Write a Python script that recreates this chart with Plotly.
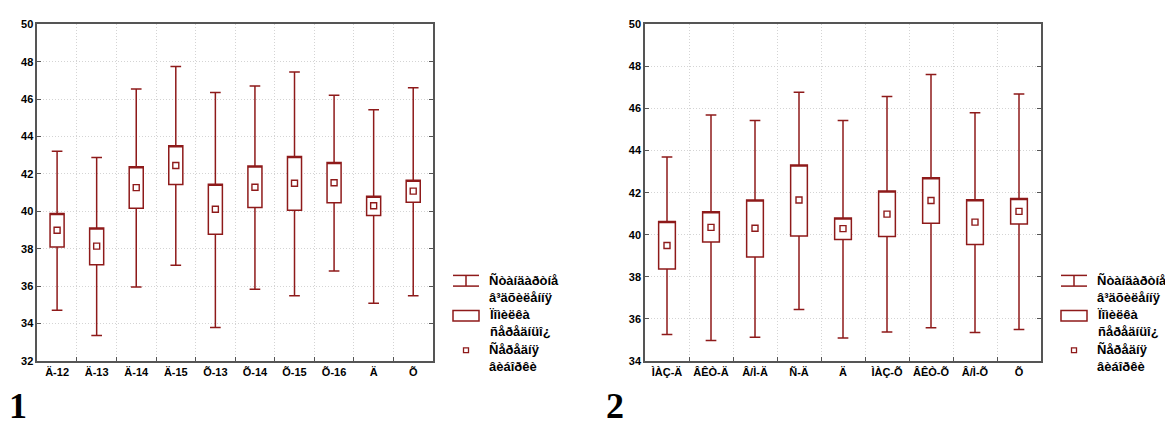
import plotly.graph_objects as go

# ---------------- data ----------------
cats1 = ["Ä-12", "Ä-13", "Ä-14", "Ä-15", "Õ-13", "Õ-14", "Õ-15", "Õ-16", "Ä", "Õ"]
mean1 = [38.99, 38.14, 41.27, 42.45, 40.11, 41.29, 41.50, 41.53, 40.30, 41.08]
se_hi1 = [39.89, 39.11, 42.38, 43.51, 41.45, 42.42, 42.94, 42.61, 40.81, 41.67]
se_lo1 = [38.09, 37.15, 40.17, 41.43, 38.78, 40.20, 40.06, 40.46, 39.78, 40.49]
sd_hi1 = [43.21, 42.88, 46.55, 47.75, 46.36, 46.71, 47.45, 46.21, 45.43, 46.61]
sd_lo1 = [34.71, 33.36, 35.96, 37.12, 33.79, 35.84, 35.49, 36.81, 35.09, 35.49]

cats2 = ["ÌÀÇ-Ä", "ÂÊÒ-Ä", "Â/Ì-Ä", "Ñ-Ä", "Ä", "ÌÀÇ-Õ", "ÂÊÒ-Õ", "Â/Ì-Õ", "Õ"]
mean2 = [39.49, 40.35, 40.31, 41.65, 40.29, 40.98, 41.63, 40.60, 41.11]
se_hi2 = [40.63, 41.09, 41.65, 43.32, 40.80, 42.08, 42.71, 41.66, 41.72]
se_lo2 = [38.37, 39.65, 38.94, 39.94, 39.77, 39.91, 40.54, 39.54, 40.51]
sd_hi2 = [43.69, 45.69, 45.43, 46.77, 45.43, 46.57, 47.62, 45.80, 46.69]
sd_lo2 = [35.26, 34.97, 35.12, 36.45, 35.09, 35.37, 35.58, 35.35, 35.49]

yticks1 = [32, 34, 36, 38, 40, 42, 44, 46, 48, 50]
yticks2 = [34, 36, 38, 40, 42, 44, 46, 48, 50]

legend_texts = ["Ñòàíäàðòíå<br>â³äõèëåííÿ", "Ïîìèëêà<br>ñåðåäíüî¿", "Ñåðåäíÿ<br>âèáîðêè"]
panel_labels = ["1", "2"]

RED = "#8E1A1A"
FONT = "Liberation Sans"
W, H = 1173, 425

fig = go.Figure()

panels = [
    dict(cats=cats1, mean=mean1, sehi=se_hi1, selo=se_lo1, sdhi=sd_hi1, sdlo=sd_lo1,
         xa="x", ya="y", boxw=0.355, ww=0.76),
    dict(cats=cats2, mean=mean2, sehi=se_hi2, selo=se_lo2, sdhi=sd_hi2, sdlo=sd_lo2,
         xa="x2", ya="y2", boxw=0.38, ww=0.64),
]

for p in panels:
    xs = list(range(len(p["cats"])))
    fig.add_trace(go.Box(
        x=xs, q1=p["selo"], q3=p["sehi"], median=p["sehi"],
        lowerfence=p["sdlo"], upperfence=p["sdhi"],
        width=p["boxw"], whiskerwidth=p["ww"],
        fillcolor="white", line=dict(color=RED, width=1.5),
        xaxis=p["xa"], yaxis=p["ya"], showlegend=False, hoverinfo="skip",
        boxpoints=False,
    ))
    fig.add_trace(go.Scatter(
        x=xs, y=p["mean"], mode="markers",
        marker=dict(symbol="square-open", size=6, color=RED, line=dict(width=1.4, color=RED)),
        xaxis=p["xa"], yaxis=p["ya"], showlegend=False, hoverinfo="skip",
    ))

# axis pixel extents
px1 = (29.3, 425.0)
px2 = (637.0, 1033.0)
py = (10.7, 357.0)

def xdom(px):
    return [px[0] / W, px[1] / W]

ydom = [1 - py[1] / H, 1 - py[0] / H]

tickfont = dict(family=FONT, size=11, color="black")
GRID = "#d4d4d4"
GDASH = "1px,2px"

def xaxis_cfg(cats, px):
    n = len(cats)
    return dict(
        domain=xdom(px), range=[-0.5, n - 0.5],
        tickmode="array", tickvals=list(range(n)), ticktext=[f"<b>{c}</b>" for c in cats],
        ticks="", showgrid=False, zeroline=False,
        showline=True, linecolor="#555", linewidth=1.5, mirror=True,
        tickfont=tickfont,
        minor=dict(tickmode="array", tickvals=[i + 0.5 for i in range(n - 1)],
                   ticks="inside", ticklen=4, tickcolor="#555",
                   showgrid=True, gridcolor=GRID, griddash=GDASH, gridwidth=1),
        fixedrange=True,
    )

def yaxis_cfg(ticks, anchor):
    return dict(
        domain=ydom, range=[ticks[0], ticks[-1]],
        tickmode="array", tickvals=ticks, ticktext=[f"<b>{t}</b>" for t in ticks],
        ticks="inside", ticklen=4, tickcolor="#555", mirror="allticks",
        showline=True, linecolor="#555", linewidth=1.5,
        showgrid=True, gridcolor=GRID, griddash=GDASH, gridwidth=1,
        zeroline=False, tickfont=tickfont, anchor=anchor, fixedrange=True,
    )

fig.update_layout(
    width=W, height=H,
    margin=dict(l=0, r=0, t=0, b=0),
    paper_bgcolor="white", plot_bgcolor="white",
    xaxis=dict(**xaxis_cfg(cats1, px1), anchor="y"),
    yaxis=yaxis_cfg(yticks1, "x"),
    xaxis2=dict(**xaxis_cfg(cats2, px2), anchor="y2"),
    yaxis2=yaxis_cfg(yticks2, "x2"),
    showlegend=False,
)

# manual legends (paper coordinates)
def X(px):
    return px / W

def Y(py_):
    return 1 - py_ / H

shapes = []
annotations = []
for lx, tx in [(445, 479), (1053, 1087)]:
    cx = lx + 13
    shapes += [
        dict(type="line", xref="paper", yref="paper", x0=X(lx), x1=X(lx + 26), y0=Y(269), y1=Y(269),
             line=dict(color=RED, width=1.5)),
        dict(type="line", xref="paper", yref="paper", x0=X(lx), x1=X(lx + 26), y0=Y(280), y1=Y(280),
             line=dict(color=RED, width=1.5)),
        dict(type="line", xref="paper", yref="paper", x0=X(cx), x1=X(cx), y0=Y(269), y1=Y(280),
             line=dict(color=RED, width=1.5)),
        dict(type="rect", xref="paper", yref="paper", x0=X(lx), x1=X(lx + 26), y0=Y(305), y1=Y(316),
             line=dict(color=RED, width=1.5), fillcolor="white"),
        dict(type="rect", xref="paper", yref="paper", x0=X(cx - 2.5), x1=X(cx + 2.5), y0=Y(343.5), y1=Y(348.5),
             line=dict(color=RED, width=1.3), fillcolor="white"),
    ]
    for txt, yc in zip(legend_texts, [283.5, 317.5, 353.5]):
        annotations.append(dict(
            text=f"<b>{txt}</b>", xref="paper", yref="paper", x=X(tx), y=Y(yc),
            xanchor="left", yanchor="middle", showarrow=False, align="left",
            font=dict(family=FONT, size=13, color="black"),
        ))

for lab, lx, sh in zip(panel_labels, [0, 604], [0, -7]):
    annotations.append(dict(
        text=f"<b>{lab}</b>", xref="paper", yref="paper", x=X(lx), y=0,
        xanchor="left", yanchor="bottom", showarrow=False, borderpad=0, xshift=sh,
        font=dict(family="Liberation Serif", size=36, color="black"),
    ))

fig.update_layout(shapes=shapes, annotations=annotations)

fig.write_html("out.html")
